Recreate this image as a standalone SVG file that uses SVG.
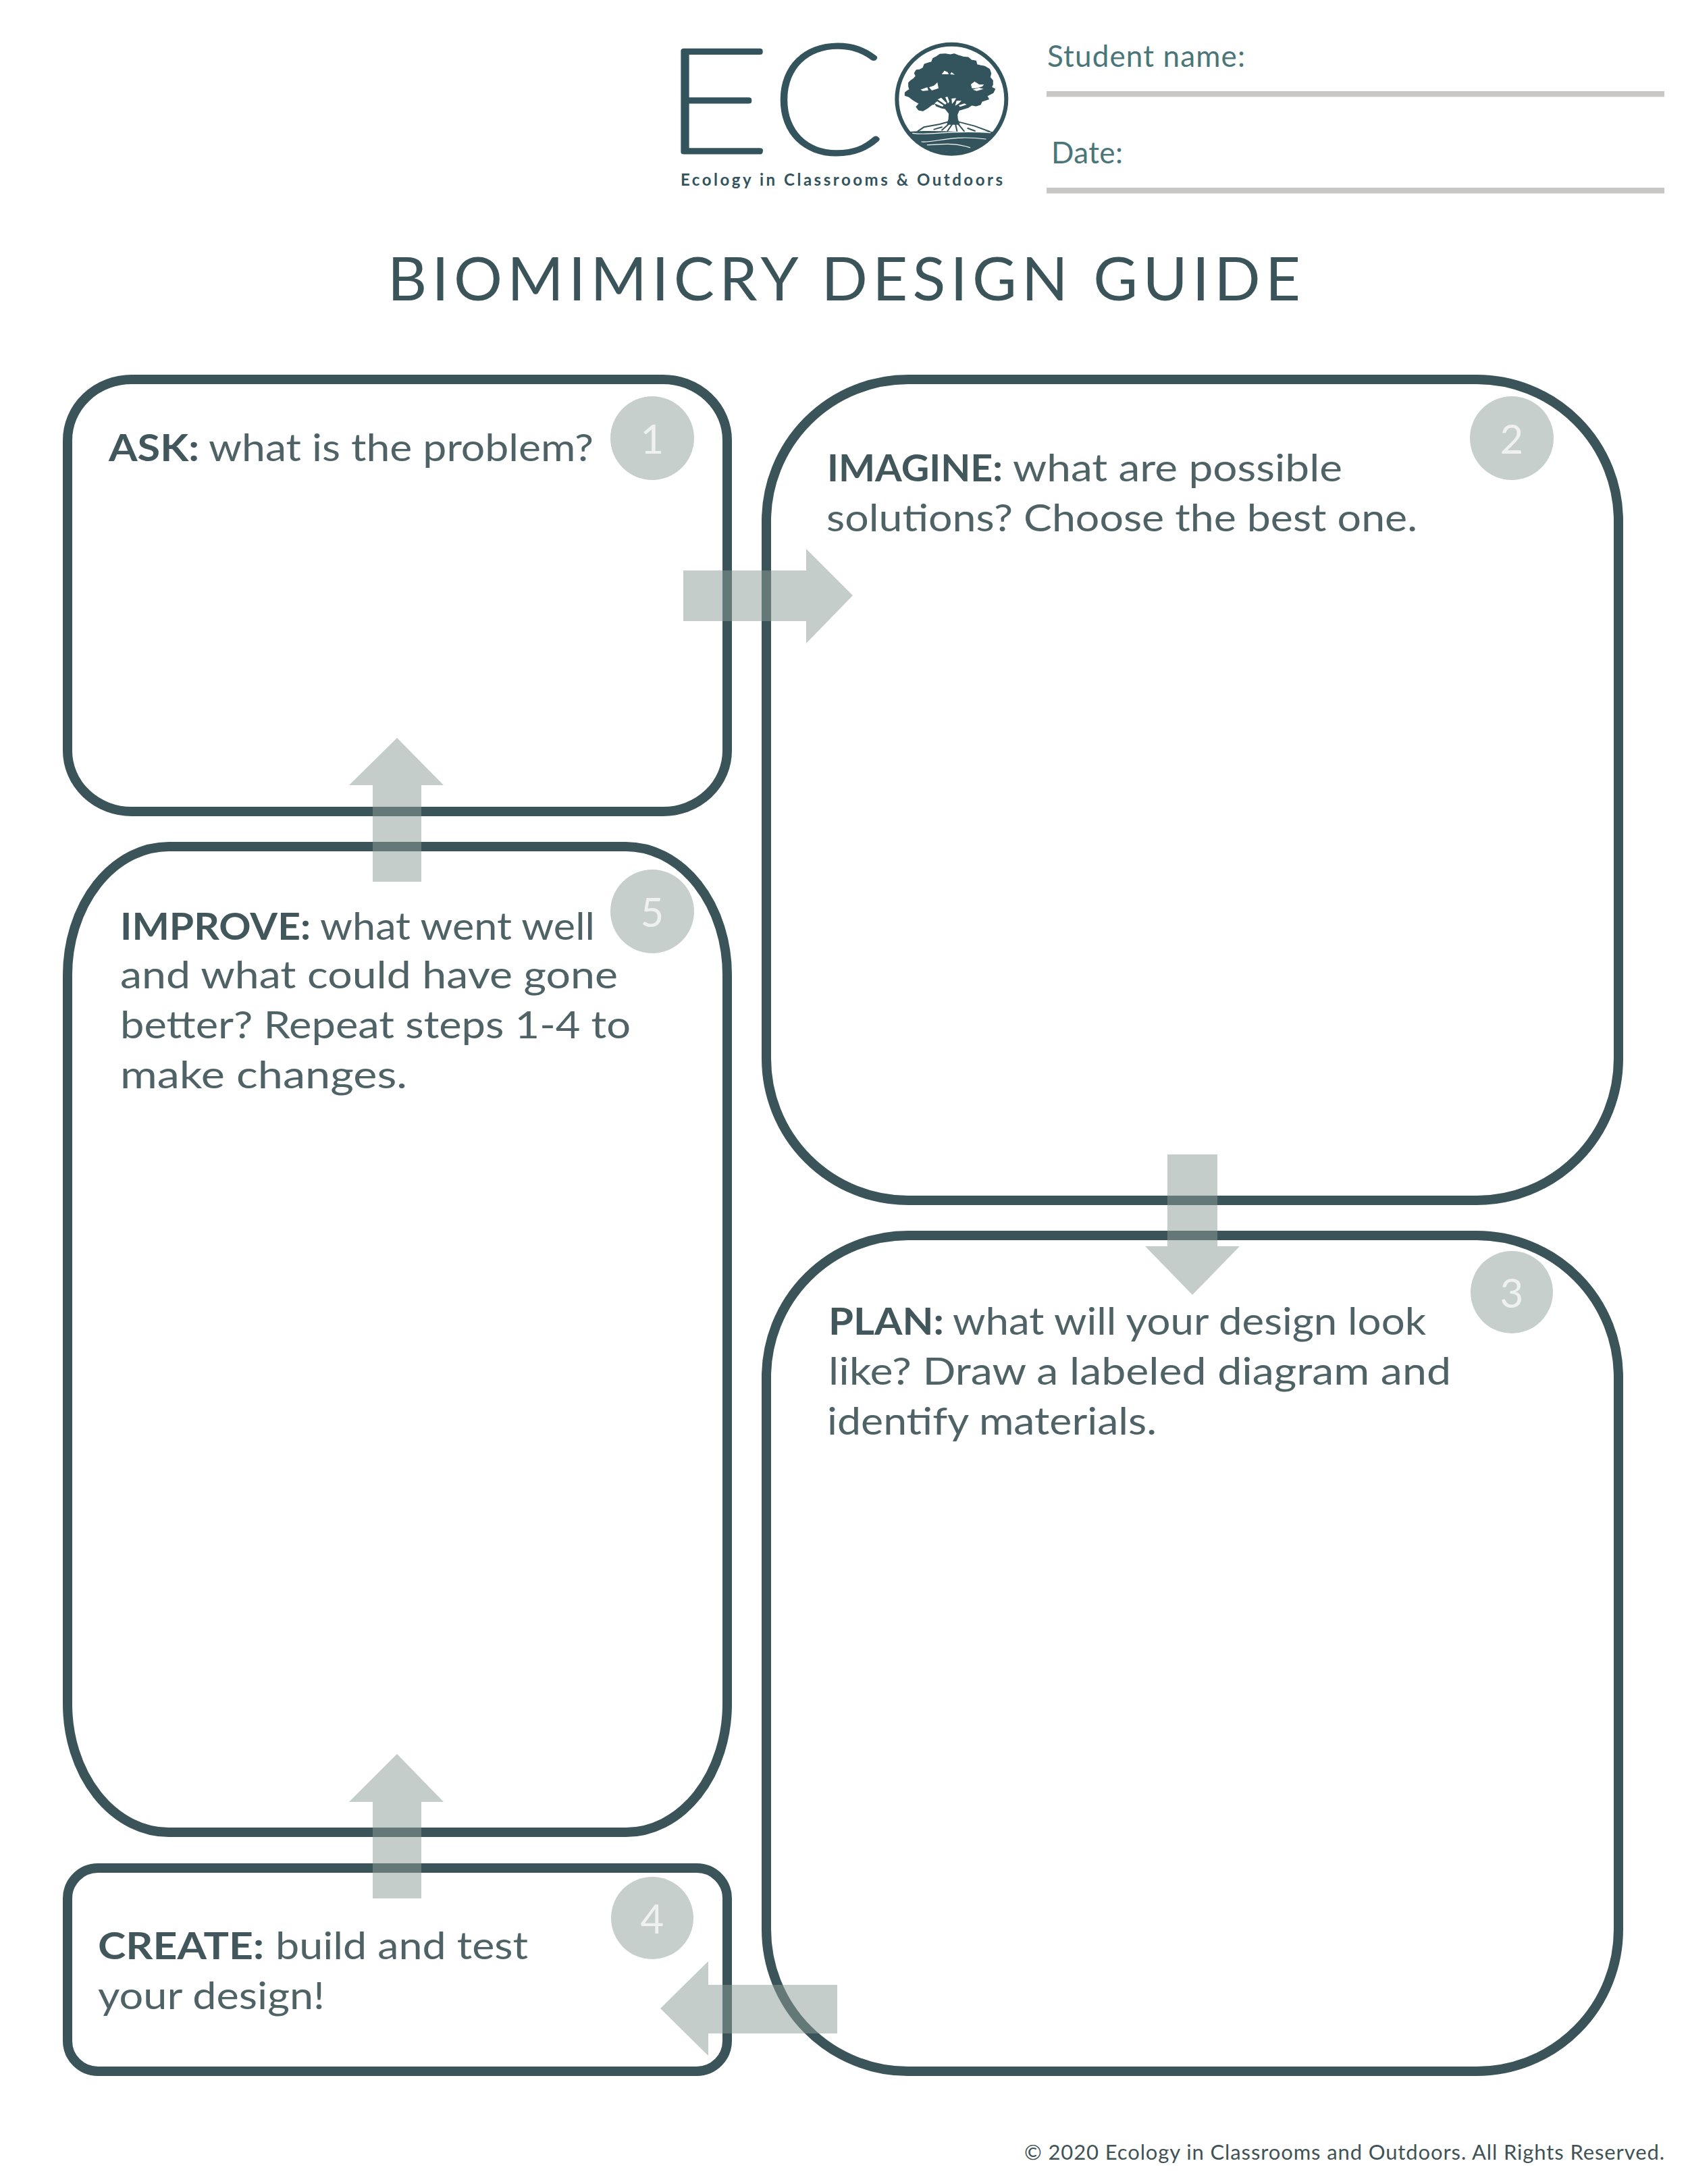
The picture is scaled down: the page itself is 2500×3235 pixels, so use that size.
<svg xmlns="http://www.w3.org/2000/svg" width="2500" height="3235" viewBox="0 0 2500 3235">
<style>
text{font-family:"Lato","Liberation Sans",sans-serif}
.box{fill:none;stroke:#3a5459;stroke-width:14}
.num{fill:#c6cfcb}
.dig{fill:#eef1ef;font-size:60px;font-weight:400;text-anchor:middle}
.b{font-size:56px;font-weight:700;fill:#42575b}
.r{font-size:56px;fill:#4f6366}
.arrow{fill:#8b9b95;fill-opacity:.5}
.rule{fill:#c9c7c5}
.lab{font-size:44px;fill:#4a7579}
.logo{fill:#33545d}
.mark{fill:#33545d;stroke:#33545d;stroke-width:7;stroke-linejoin:round;font-weight:100}
.tree{fill:#33545d;stroke:#33545d;stroke-width:5;stroke-linejoin:round}
.w{fill:#fff}
.wl{fill:none;stroke:#fff;stroke-width:3.5;stroke-linecap:round}
.dl{fill:none;stroke:#33545d;stroke-width:6;stroke-linecap:round}
</style>
<rect width="2500" height="3235" fill="#fff"/>
<g id="logo">
<text class="mark" x="981" y="225" font-size="214" textLength="160" lengthAdjust="spacingAndGlyphs">E</text>
<text class="mark" x="1143" y="227" font-size="224" textLength="166" lengthAdjust="spacingAndGlyphs">C</text>
<g transform="translate(1320 60) scale(.3333)">
<circle cx="268" cy="260" r="243" fill="none" stroke="#33545d" stroke-width="18"/>
<path class="logo" d="M82,405C200,396 340,412 454,405A236,236 0 0 1 82,405Z"/>
<path class="tree" d="M62,232 72,224 82,218 78,205 78,188 88,178 100,170 110,158 104,145 112,132 128,130 142,122 148,106 166,100 180,96 186,80 202,72 216,62 240,60 262,64 280,60 300,68 320,74 342,76 356,88 376,92 380,108 396,112 416,116 436,128 442,146 438,164 450,178 450,196 444,208 460,216 452,232 436,240 424,246 432,260 414,266 402,270 396,284 376,290 358,286 340,298 320,304 300,310 292,330 294,350 302,372 250,372 256,350 258,325 240,302 220,298 200,290 196,280 178,286 160,300 140,312 122,308 112,295 125,280 108,270 95,262 80,250 62,244Z"/>
<path class="w" d="M192,280 228,294 232,288 204,270ZM206,262 240,285 246,278 222,254ZM240,252 252,280 258,272 250,250ZM268,258 270,282 282,268 288,256ZM290,268 284,290 300,280 312,268ZM305,295 335,285 325,280 300,288ZM224,150 236,134 250,140 256,150ZM262,150 268,140 282,152ZM130,218 160,208 165,222 140,224ZM168,208 190,200 205,186 210,212 180,222ZM354,195 370,182 392,196 412,196 404,205 375,212 358,212ZM362,218 390,210 410,215 380,224Z"/>
<path class="dl" d="M118,403 145,385 215,372 258,360M300,362 370,380 438,405M262,365 225,398M272,370 250,402M285,370 292,402M298,372 325,405M190,395 225,385M340,390 372,402"/>
<path class="wl" d="M95,412C180,425 250,395 440,410M135,450C200,455 260,418 420,438M160,464C220,462 280,452 350,476"/>
</g>
<text class="logo" x="1008" y="275" font-size="24" font-weight="700" textLength="477">Ecology in Classrooms &amp; Outdoors</text>
</g>
<g id="student-fields">
<text class="lab" x="1551" y="99" textLength="293">Student name:</text>
<rect class="rule" x="1550" y="135" width="915" height="8.5"/>
<text class="lab" x="1557" y="242" textLength="106">Date:</text>
<rect class="rule" x="1550" y="278" width="915" height="8.5"/>
</g>
<text id="title" x="574" y="445" font-size="90" fill="#3a5459" textLength="1352">BIOMIMICRY DESIGN GUIDE</text>
<g id="node-1">
<rect class="box" x="100" y="562" width="977" height="640" rx="95" ry="90"/>
<circle class="num" cx="966" cy="649" r="62"/>
<text class="dig" x="966" y="672">1</text>
<text class="b" x="161" y="683" textLength="134" lengthAdjust="spacingAndGlyphs">ASK:</text>
<text class="r" x="309" y="683" textLength="570" lengthAdjust="spacingAndGlyphs">what is the problem?</text>
</g>
<g id="node-2">
<rect class="box" x="1135" y="562" width="1262" height="1216" rx="210" ry="210"/>
<circle class="num" cx="2239" cy="649" r="62"/>
<text class="dig" x="2239" y="672">2</text>
<text class="b" x="1225" y="713" textLength="260" lengthAdjust="spacingAndGlyphs">IMAGINE:</text>
<text class="r" x="1500" y="713" textLength="488" lengthAdjust="spacingAndGlyphs">what are possible</text>
<text class="r" x="1224" y="787" textLength="875" lengthAdjust="spacingAndGlyphs">solutions? Choose the best one.</text>
</g>
<g id="node-3">
<rect class="box" x="1135" y="1830" width="1262" height="1238" rx="210" ry="210"/>
<circle class="num" cx="2239" cy="1914" r="61"/>
<text class="dig" x="2239" y="1937">3</text>
<text class="b" x="1227" y="1977" textLength="171" lengthAdjust="spacingAndGlyphs">PLAN:</text>
<text class="r" x="1411" y="1977" textLength="701" lengthAdjust="spacingAndGlyphs">what will your design look</text>
<text class="r" x="1227" y="2051" textLength="922" lengthAdjust="spacingAndGlyphs">like? Draw a labeled diagram and</text>
<text class="r" x="1225" y="2125" textLength="488" lengthAdjust="spacingAndGlyphs">identify materials.</text>
</g>
<g id="node-4">
<rect class="box" x="100" y="2767" width="977" height="301" rx="45" ry="45"/>
<circle class="num" cx="966" cy="2841" r="61"/>
<text class="dig" x="966" y="2864">4</text>
<text class="b" x="145" y="2902" textLength="246" lengthAdjust="spacingAndGlyphs">CREATE:</text>
<text class="r" x="408" y="2902" textLength="374" lengthAdjust="spacingAndGlyphs">build and test</text>
<text class="r" x="145" y="2976" textLength="336" lengthAdjust="spacingAndGlyphs">your design!</text>
</g>
<g id="node-5">
<rect class="box" x="100" y="1254" width="977" height="1460" rx="150" ry="190"/>
<circle class="num" cx="966" cy="1350" r="62"/>
<text class="dig" x="966" y="1373">5</text>
<text class="b" x="178" y="1392" textLength="282" lengthAdjust="spacingAndGlyphs">IMPROVE:</text>
<text class="r" x="474" y="1392" textLength="407" lengthAdjust="spacingAndGlyphs">what went well</text>
<text class="r" x="178" y="1464" textLength="737" lengthAdjust="spacingAndGlyphs">and what could have gone</text>
<text class="r" x="178" y="1538" textLength="756" lengthAdjust="spacingAndGlyphs">better? Repeat steps 1-4 to</text>
<text class="r" x="178" y="1612" textLength="425" lengthAdjust="spacingAndGlyphs">make changes.</text>
</g>
<g id="connectors">
<polygon class="arrow" points="1012,845 1194,845 1194,813 1263,882 1194,953 1194,920 1012,920"/>
<polygon class="arrow" points="1729,1710 1803,1710 1803,1846 1836,1846 1766,1918 1696,1846 1729,1846"/>
<polygon class="arrow" points="1240,2940 1049,2940 1049,2905 978,2975 1049,3045 1049,3012 1240,3012"/>
<polygon class="arrow" points="552,2812 552,2669 517,2669 588,2598 657,2669 624,2669 624,2812"/>
<polygon class="arrow" points="552,1306 552,1163 517,1163 588,1093 657,1163 624,1163 624,1306"/>
</g>
<text id="footer" x="1517" y="3199" font-size="31" fill="#3f5356" textLength="948">© 2020 Ecology in Classrooms and Outdoors. All Rights Reserved.</text>
</svg>
